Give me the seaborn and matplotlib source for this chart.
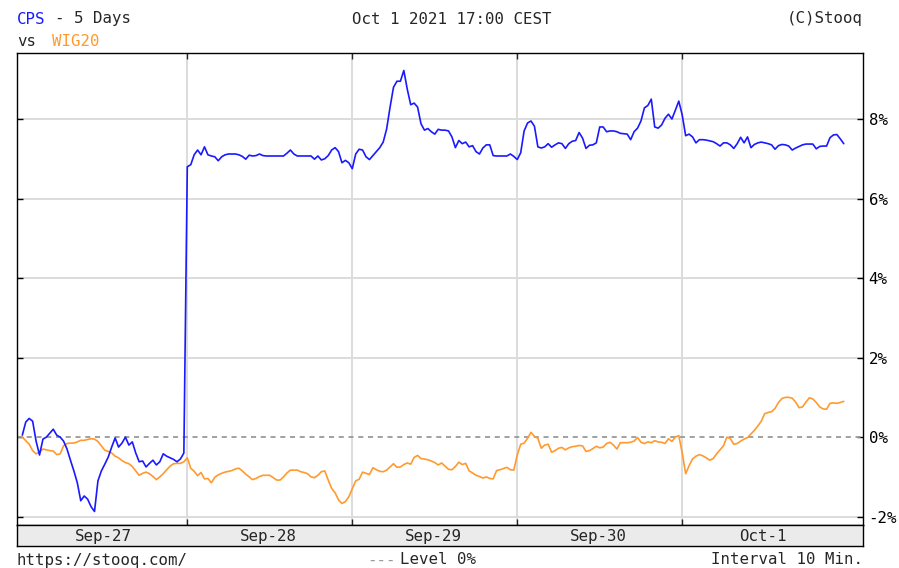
import numpy as np
import pandas as pd
import seaborn as sns
import matplotlib.pyplot as plt

# ----------------------------
# Data (% change, 10 min bars, 48 per session)
# ----------------------------
days = ["Sep-27", "Sep-28", "Sep-29", "Sep-30", "Oct-1"]
points_per_day = 48

cps = [
    # Sep-27
    0.05, 0.38, 0.47, 0.40, -0.10, -0.45, -0.05, 0.00, 0.10, 0.20, 0.05, 0.00,
    -0.10, -0.30, -0.58, -0.85, -1.15, -1.60, -1.48, -1.56, -1.75, -1.87, -1.10, -0.85,
    -0.68, -0.50, -0.25, -0.02, -0.25, -0.15, 0.00, -0.20, -0.12, -0.40, -0.62, -0.60,
    -0.75, -0.66, -0.58, -0.70, -0.62, -0.42, -0.48, -0.52, -0.56, -0.62, -0.55, -0.40,
    # Sep-28
    6.80, 6.85, 7.10, 7.22, 7.10, 7.30, 7.10, 7.07, 7.05, 6.95, 7.05, 7.10,
    7.12, 7.12, 7.12, 7.10, 7.06, 6.99, 7.09, 7.07, 7.08, 7.12, 7.08, 7.07,
    7.07, 7.07, 7.07, 7.07, 7.07, 7.14, 7.22, 7.12, 7.07, 7.07, 7.07, 7.07,
    7.07, 6.99, 7.07, 6.97, 7.00, 7.08, 7.22, 7.28, 7.18, 6.90, 6.96, 6.90,
    # Sep-29
    6.75, 7.12, 7.24, 7.22, 7.05, 6.98, 7.08, 7.18, 7.28, 7.42, 7.75, 8.30,
    8.80, 8.95, 8.95, 9.22, 8.75, 8.36, 8.40, 8.30, 7.88, 7.72, 7.76, 7.68,
    7.62, 7.74, 7.72, 7.72, 7.70, 7.55, 7.28, 7.46, 7.38, 7.42, 7.30, 7.33,
    7.18, 7.12, 7.27, 7.35, 7.35, 7.08, 7.07, 7.07, 7.07, 7.07, 7.12, 7.06,
    # Sep-30
    6.98, 7.15, 7.70, 7.90, 7.95, 7.82, 7.30, 7.27, 7.30, 7.38, 7.29, 7.35,
    7.40, 7.38, 7.26, 7.38, 7.44, 7.46, 7.66, 7.52, 7.26, 7.34, 7.35, 7.40,
    7.80, 7.80, 7.68, 7.70, 7.70, 7.68, 7.64, 7.63, 7.62, 7.48, 7.68, 7.77,
    7.95, 8.28, 8.34, 8.50, 7.80, 7.77, 7.85, 8.02, 8.12, 8.00, 8.22, 8.45,
    # Oct-1
    8.10, 7.58, 7.62, 7.55, 7.40, 7.48, 7.48, 7.47, 7.45, 7.43, 7.38, 7.32,
    7.40, 7.40, 7.35, 7.26, 7.38, 7.54, 7.40, 7.55, 7.28, 7.36, 7.40, 7.42,
    7.40, 7.38, 7.35, 7.24, 7.33, 7.36, 7.35, 7.32, 7.22, 7.27, 7.31, 7.35,
    7.37, 7.37, 7.37, 7.25, 7.31, 7.32, 7.32, 7.53, 7.60, 7.61, 7.50, 7.38,
]

wig20 = [
    # Sep-27
    0.00, -0.09, -0.18, -0.34, -0.42, -0.38, -0.30, -0.32, -0.34, -0.35, -0.44, -0.42,
    -0.22, -0.16, -0.15, -0.15, -0.12, -0.08, -0.08, -0.06, -0.04, -0.05, -0.11, -0.22,
    -0.33, -0.36, -0.40, -0.48, -0.52, -0.59, -0.64, -0.67, -0.74, -0.85, -0.96, -0.91,
    -0.88, -0.92, -0.99, -1.07, -1.00, -0.92, -0.82, -0.73, -0.67, -0.66, -0.66, -0.62,
    # Sep-28
    -0.52, -0.78, -0.86, -0.97, -0.89, -1.05, -1.04, -1.15, -1.01, -0.95, -0.91, -0.88,
    -0.86, -0.84, -0.80, -0.78, -0.85, -0.93, -1.00, -1.07, -1.04, -0.99, -0.96, -0.96,
    -0.96, -1.02, -1.08, -1.08, -1.00, -0.90, -0.83, -0.83, -0.83, -0.87, -0.89, -0.92,
    -1.00, -1.02, -0.96, -0.87, -0.85, -1.08, -1.29, -1.40, -1.58, -1.67, -1.62, -1.50,
    # Sep-29
    -1.30, -1.10, -1.06, -0.88, -0.91, -0.94, -0.77, -0.82, -0.86, -0.87, -0.83, -0.75,
    -0.67, -0.76, -0.75, -0.69, -0.65, -0.68, -0.51, -0.46, -0.54, -0.55, -0.57, -0.60,
    -0.64, -0.70, -0.65, -0.73, -0.81, -0.82, -0.74, -0.63, -0.69, -0.66, -0.85, -0.90,
    -0.96, -0.99, -1.03, -1.00, -1.04, -1.05, -0.84, -0.82, -0.79, -0.76, -0.82, -0.83,
    # Sep-30
    -0.45, -0.18, -0.15, -0.03, 0.12, 0.02, -0.03, -0.28, -0.20, -0.18, -0.38, -0.34,
    -0.28, -0.26, -0.32, -0.27, -0.24, -0.23, -0.21, -0.22, -0.36, -0.34, -0.29, -0.23,
    -0.27, -0.25, -0.16, -0.13, -0.20, -0.30, -0.14, -0.14, -0.14, -0.13, -0.10, -0.01,
    -0.13, -0.16, -0.12, -0.14, -0.09, -0.12, -0.13, -0.16, -0.04, -0.11, 0.00, 0.04,
    # Oct-1
    -0.40, -0.92, -0.72, -0.55, -0.48, -0.44, -0.47, -0.52, -0.58, -0.54, -0.42, -0.32,
    -0.22, 0.00, -0.04, -0.18, -0.16, -0.10, -0.05, -0.01, 0.08, 0.17, 0.28, 0.40,
    0.59, 0.62, 0.64, 0.72, 0.87, 0.97, 1.00, 1.00, 0.98, 0.88, 0.74, 0.76,
    0.88, 0.99, 0.96, 0.87, 0.76, 0.71, 0.70, 0.85, 0.86, 0.85, 0.87, 0.90,
]

pct_ticks = [-2, 0, 2, 4, 6, 8]

# ----------------------------
# Style
# ----------------------------
W, H = 899, 568
BLUE = "#1a1aff"
ORANGE = "#ff9a2e"
GRID = "#dcdcdc"

sns.set_style("white")
plt.rcParams["font.family"] = ["DejaVu Sans Mono", "DejaVu Sans"]
plt.rcParams["font.size"] = 11.3


def box(left, top, right, bottom):
    """pixel box -> figure fraction rect"""
    return [left / W, 1 - bottom / H, (right - left) / W, (bottom - top) / H]


def fig_text(x, y, s, **kw):
    fig.text(x / W, 1 - y / H, s, va="center", **kw)


df = pd.concat([
    pd.DataFrame({"bar": np.arange(len(wig20)), "pct": wig20, "series": "WIG20"}),
    pd.DataFrame({"bar": np.arange(len(cps)), "pct": cps, "series": "CPS"}),
])

fig = plt.figure(figsize=(W / 100, H / 100), dpi=100)
ax = fig.add_axes(box(17, 53, 863, 525))
bar_ax = fig.add_axes(box(17, 525, 863, 546), sharex=ax)

n_bars = points_per_day * len(days)
day_edges = [points_per_day * i for i in range(1, len(days))]

# grid first so the lines sit on top
for t in pct_ticks:
    if t != 0:
        ax.axhline(t, color=GRID, lw=1.4, zorder=0)
for e in day_edges:
    ax.axvline(e - 0.1, color=GRID, lw=1.4, zorder=0)
ax.axhline(0, color="#9a9a9a", lw=1.3, ls=(0, (2.8, 2.6)), zorder=1)

sns.lineplot(data=df, x="bar", y="pct", hue="series", hue_order=["WIG20", "CPS"],
             palette={"CPS": BLUE, "WIG20": ORANGE}, estimator=None,
             lw=1.2, legend=False, ax=ax, zorder=3)

ax.set_xlim(-1.55, n_bars + 4.6)
ax.set_ylim(-2.21, 9.66)
ax.set_xlabel("")
ax.set_ylabel("")

ax.set_yticks(pct_ticks)
ax.set_yticklabels([f"{t}%" for t in pct_ticks])
ax.tick_params(axis="y", left=True, right=True, labelleft=False, labelright=True,
               direction="in", length=4, width=1, pad=4, colors="black")
ax.set_xticks(day_edges)
ax.tick_params(axis="x", top=True, bottom=True, labelbottom=False,
               direction="in", length=4, width=1)
for sp in ax.spines.values():
    sp.set_color("black")
    sp.set_linewidth(1)

# date strip under the plot
bar_ax.set_facecolor("#ebebeb")
bar_ax.set_ylim(0, 1)
bar_ax.tick_params(left=False, bottom=False, labelleft=False, labelbottom=False)
for sp in bar_ax.spines.values():
    sp.set_color("black")
    sp.set_linewidth(1)
for i, d in enumerate(days):
    bar_ax.text(points_per_day * i + points_per_day / 2 - 0.5, 0.45, d,
                ha="center", va="center")

# header / footer
fig_text(17, 19, "CPS", color=BLUE)
fig_text(55, 19, "- 5 Days")
fig_text(17, 41, "vs")
fig_text(52, 41, "WIG20", color=ORANGE)
fig_text(452, 19, "Oct 1 2021 17:00 CEST", ha="center")
fig_text(863, 19, "(C)Stooq", ha="right")

fig_text(17, 560, "https://stooq.com/")
fig_text(367, 560, "---", color="#9a9a9a")
fig_text(400, 560, "Level 0%")
fig_text(863, 560, "Interval 10 Min.", ha="right")

fig.savefig("out.png", dpi=100, facecolor="white")
